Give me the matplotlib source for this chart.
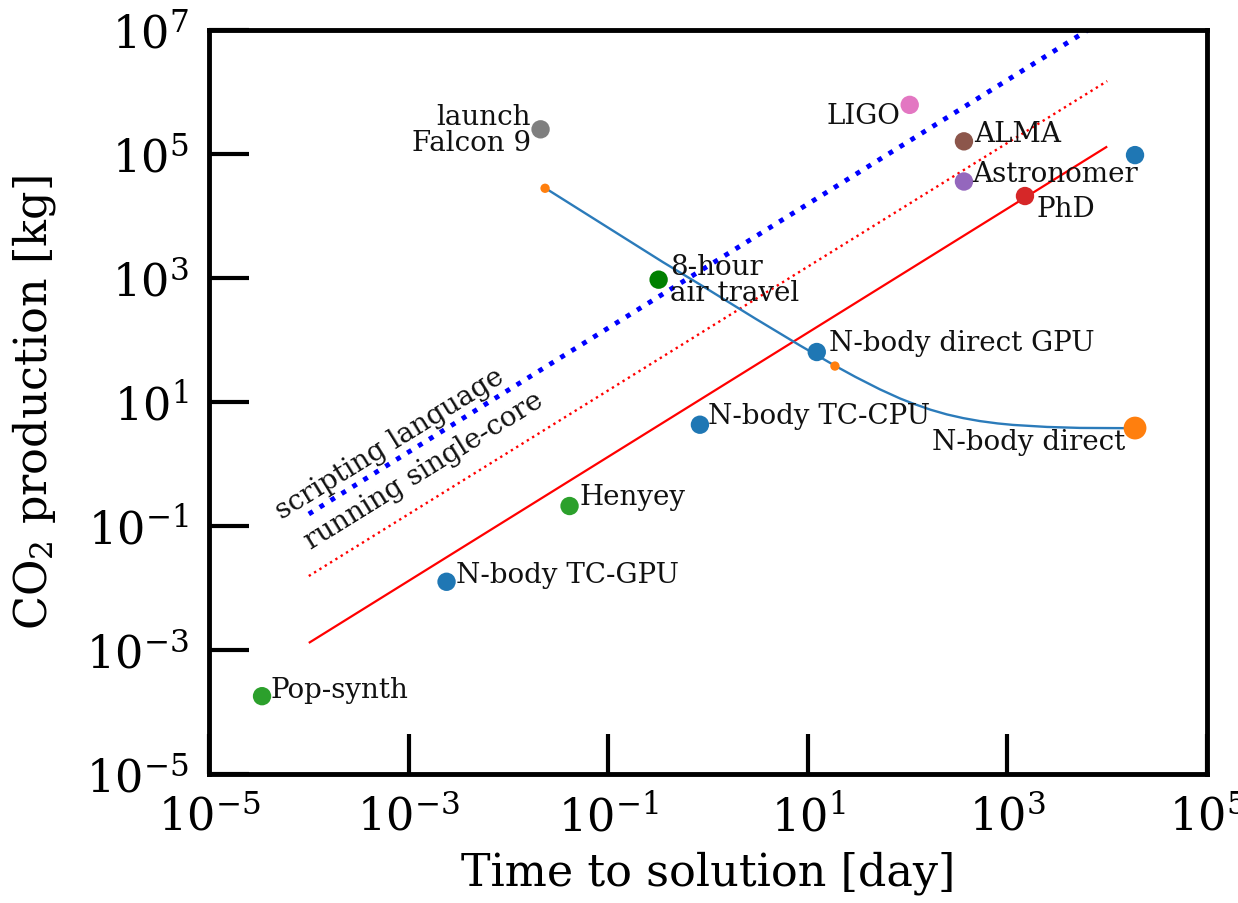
import matplotlib
matplotlib.use("Agg")
import matplotlib.pyplot as plt
import numpy as np

plt.rcParams['font.family'] = ['DejaVu Serif']
plt.rcParams['mathtext.fontset'] = 'dejavuserif'

# ---- data ----
point_labels = ["Pop-synth", "N-body TC-GPU", "Henyey", "N-body TC-CPU",
                "N-body direct GPU", "N-body direct", "", "PhD", "Astronomer",
                "ALMA", "LIGO", "launch\nFalcon 9", "8-hour\nair travel"]
point_time = [3.4e-5, 2.4e-3, 0.041, 0.83, 12.3, 1.9e4, 1.9e4, 1.5e3, 367,
              367, 105, 0.021, 0.32]
point_co2 = [1.8e-4, 0.0126, 0.21, 4.3, 64, 3.8, 9.6e4, 2.1e4, 3.6e4,
             1.6e5, 6.2e5, 2.5e5, 940]
point_colors = ["tab:green", "tab:blue", "tab:green", "tab:blue", "tab:blue",
                "tab:orange", "tab:blue", "tab:red", "tab:purple", "tab:brown",
                "tab:pink", "tab:gray", "green"]

# reference lines (time in day, CO2 in kg)
line_time = [1e-4, 1e4]
phd_line = [1.3e-3, 1.32e5]
single_core_line = [0.0156, 1.5e6]
scripting_line = [0.156, 1.56e7]

# N-body direct curve
curve_time = [0.0233, 0.354, 0.832, 3.0, 8.36, 18.7, 30, 52.8, 83.9, 113, 170,
              248, 360, 531, 800, 1138, 2494, 5333, 1.8e4]
curve_co2 = [2.83e4, 1800, 785, 220, 81.5, 38.5, 25.4, 16.0, 11.4, 9.45, 7.5,
             6.3, 5.5, 4.92, 4.51, 4.27, 3.96, 3.82, 3.78]
small_dot_time = [0.0233, 18.7]
small_dot_co2 = [2.8e4, 38]

# ---- figure ----
fig = plt.figure(figsize=(12.38, 9.04), dpi=100)
ax = fig.add_axes([209 / 1238, 1 - 775 / 904, 998 / 1238, 744 / 904])
ax.set_xscale('log')
ax.set_yscale('log')
ax.set_xlim(1e-5, 1e5)
ax.set_ylim(1e-5, 1e7)

ax.plot(line_time, phd_line, color='red', lw=1.6, solid_capstyle='butt')
ax.plot(line_time, single_core_line, color='red', lw=1.7, ls=':')
ax.plot(line_time, scripting_line, color='blue', lw=3.5, ls=':')

ax.plot(curve_time, curve_co2, color='#2b7bba', lw=1.7)
ax.scatter(small_dot_time, small_dot_co2, s=45, color='tab:orange', zorder=3,
           edgecolors='none')

for i, (t, c, col) in enumerate(zip(point_time, point_co2, point_colors)):
    size = 270 if i == 5 else 175
    ax.scatter([t], [c], s=size, color=col, zorder=4, edgecolors='none')

fs = 20
offsets = {
    0: ((6, 5), 'left'),
    1: ((7, 5), 'left'),
    2: ((7, 7), 'left'),
    3: ((6, 7), 'left'),
    4: ((9, 7), 'left'),
    5: ((-7, -10), 'right'),
    7: ((8, -9), 'left'),
    8: ((6, 6), 'left'),
    9: ((7, 6), 'left'),
    10: ((-7, -8), 'right'),
    11: ((-7, 0), 'right'),
    12: ((8, 0), 'left'),
}
for i, ((dx, dy), ha) in offsets.items():
    ax.annotate(point_labels[i], (point_time[i], point_co2[i]),
                xytext=(dx, dy), textcoords='offset points', ha=ha,
                va='center', fontsize=fs, multialignment=ha,
                linespacing=0.95, color='#111111', zorder=5)

ax.text(5.4e-5, 0.13, "scripting language", rotation=31.8,
        rotation_mode='anchor', ha='left', va='baseline', fontsize=fs,
        color='#111111')
ax.text(1.06e-4, 0.043, "running single-core", rotation=31.8,
        rotation_mode='anchor', ha='left', va='baseline', fontsize=fs,
        color='#111111')

ax.set_xticks([1e-5, 1e-3, 1e-1, 1e1, 1e3, 1e5])
ax.set_yticks([1e-5, 1e-3, 1e-1, 1e1, 1e3, 1e5, 1e7])
ax.minorticks_off()
ax.tick_params(axis='both', which='major', direction='in', length=29,
               width=3, labelsize=32, pad=15, top=False, right=False)
for sp in ax.spines.values():
    sp.set_linewidth(3.5)

ax.set_xlabel("Time to solution [day]", fontsize=32, labelpad=8)
ax.set_ylabel("CO$_2$ production [kg]", fontsize=32, labelpad=20)

fig.savefig("out.png", dpi=100)
